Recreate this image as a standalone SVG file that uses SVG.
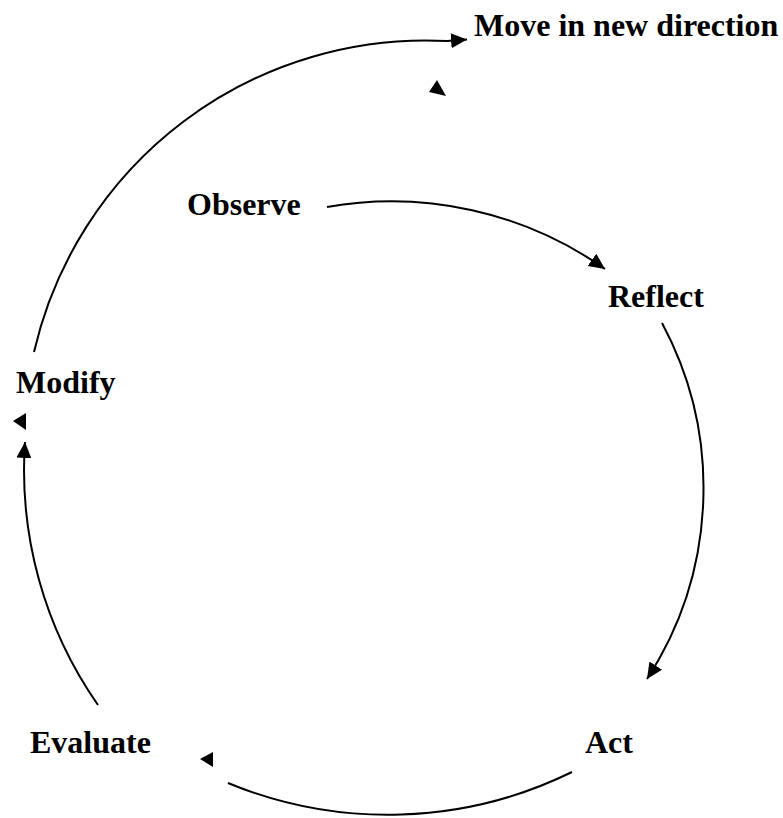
<svg xmlns="http://www.w3.org/2000/svg" width="783" height="818" viewBox="0 0 783 818">
<style>
.lbl{font-family:"Liberation Serif","Times New Roman",serif;font-weight:bold;font-size:32px;fill:#000}
.conn{fill:none;stroke:#000;stroke-width:2}
.head{fill:#000;stroke:none}
</style>
<defs>
<marker id="arr" markerUnits="userSpaceOnUse" markerWidth="18" markerHeight="16" refX="16" refY="7.5" orient="auto">
<path d="M0,0 L16,7.5 L0,15 z" fill="#000"/>
</marker>
</defs>
<rect width="783" height="818" fill="#fff"/>
<g id="connectors">
<path class="conn" d="M34,352 A402,402 0 0 1 447,41 L467,39.5" marker-end="url(#arr)"/>
<path class="conn" d="M327,207 A370,370 0 0 1 605,269" marker-end="url(#arr)"/>
<path class="conn" d="M662,323 A350,350 0 0 1 647,679" marker-end="url(#arr)"/>
<path class="conn" d="M228,783 A418,418 0 0 0 572,772"/>
<path class="conn" d="M98,705 A410,410 0 0 1 25,442" marker-end="url(#arr)"/>
<polygon class="head" points="437,80 429,92 446,96"/>
<polygon class="head" points="13,421 26,413 26,430"/>
<polygon class="head" points="200,759 213,752 213,767"/>
</g>
<g id="node-move"><text class="lbl" x="474" y="36">Move in new direction</text></g>
<g id="node-observe"><text class="lbl" x="187" y="215">Observe</text></g>
<g id="node-reflect"><text class="lbl" x="608" y="307">Reflect</text></g>
<g id="node-modify"><text class="lbl" x="16" y="393">Modify</text></g>
<g id="node-evaluate"><text class="lbl" x="30" y="753">Evaluate</text></g>
<g id="node-act"><text class="lbl" x="585" y="753">Act</text></g>
</svg>
